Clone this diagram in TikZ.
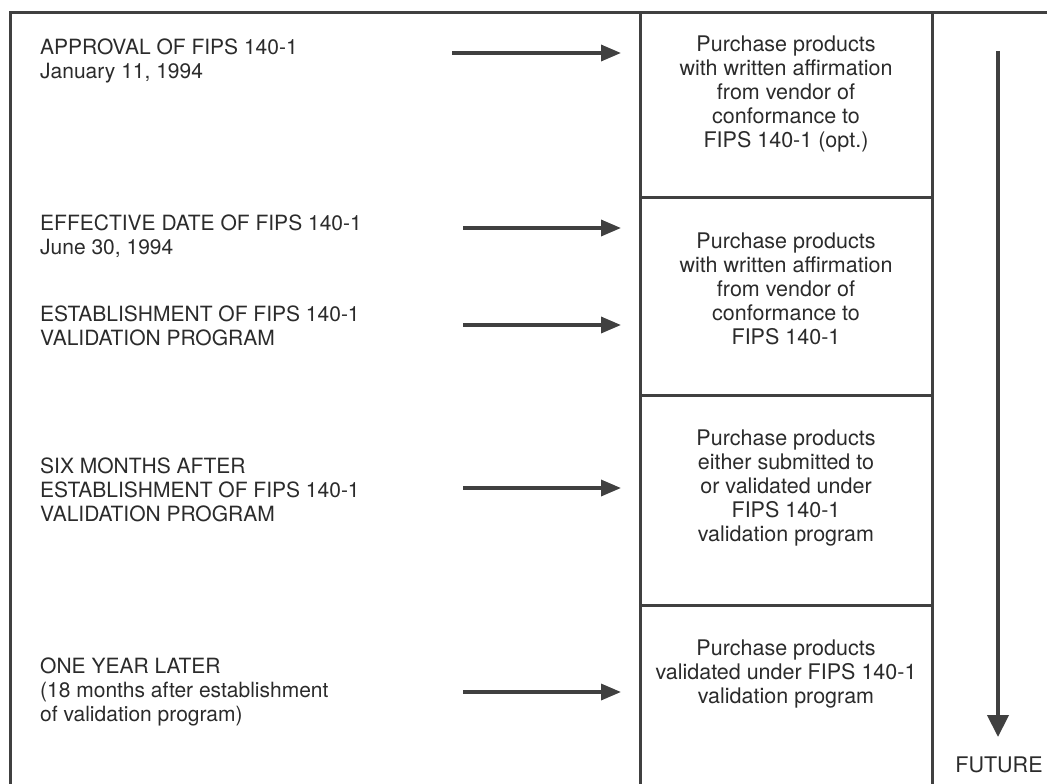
\documentclass[tikz,border=0pt]{standalone}
\usepackage{fontspec}
\setmainfont{TeX Gyre Heros}
\usetikzlibrary{arrows.meta}

\definecolor{ink}{HTML}{404040}
\definecolor{print}{HTML}{2B2B2B}

\tikzset{
  rule/.style={draw=ink, line width=3pt},
  event/.style={anchor=west, align=left, inner sep=0pt, text=print,
    font=\fontsize{21}{24}\selectfont},
  buy/.style={anchor=center, align=center, inner sep=0pt, text=print,
    font=\fontsize{21.5}{24}\selectfont},
  goes/.style={draw=ink, line width=3.4pt, -{Triangle[length=20pt,width=16pt]}},
  later/.style={draw=ink, line width=4.2pt, -{Triangle[length=22pt,width=21pt]}},
}

\begin{document}
\begin{tikzpicture}[x=1pt,y=-1pt]
\useasboundingbox (0,0) rectangle (1047,784);

\def\xl{10}; % left edge
\def\xm{640}; % purchase column
\def\xr{932}; % future column
\def\yt{13}; % top rule
\def\yb{784};
\def\xt{40}; % left text
\def\xc{786}; % purchase text centre

% frame
\draw[rule] (1047,\yt) -- (\xl,\yt) -- (\xl,\yb);
\draw[rule] (\xm,\yt) -- (\xm,\yb);
\draw[rule] (\xr,\yt) -- (\xr,\yb);
\draw[rule] (\xm,197) -- (\xr,197);
\draw[rule] (\xm,395) -- (\xr,395);
\draw[rule] (\xm,605) -- (\xr,605);

% events
\node[event] (approval) at (\xt,61) {APPROVAL OF FIPS 140-1\\January 11, 1994};
\node[event] (effective) at (\xt,236) {EFFECTIVE DATE OF FIPS 140-1\\June 30, 1994};
\node[event] (program) at (\xt,326) {ESTABLISHMENT OF FIPS 140-1\\VALIDATION PROGRAM};
\node[event] (sixmonths) at (\xt,490) {SIX MONTHS AFTER\\ESTABLISHMENT OF FIPS 140-1\\VALIDATION PROGRAM};
\node[event] (oneyear) at (\xt,692) {ONE YEAR LATER\\(18 months after establishment\\of validation program)};

% what to purchase
\node[buy] (optional) at (\xc,94) {Purchase products\\with written affirmation\\from vendor of\\conformance to\\FIPS 140-1 (opt.)};
\node[buy] (affirmed) at (\xc,289) {Purchase products\\with written affirmation\\from vendor of\\conformance to\\FIPS 140-1};
\node[buy] (submitted) at (\xc,488) {Purchase products\\either submitted to\\or validated under\\FIPS 140-1\\validation program};
\node[buy] (validated) at (\xc,674) {Purchase products\\validated under FIPS 140-1\\validation program};

% arrows
\coordinate (s1) at (452,53);
\coordinate (e1) at (621,53);
\coordinate (s2) at (463,228);
\coordinate (e2) at (621,228);
\coordinate (s3) at (463,325);
\coordinate (e3) at (621,325);
\coordinate (s4) at (463,488);
\coordinate (e4) at (621,488);
\coordinate (s5) at (463,692);
\coordinate (e5) at (621,692);
\foreach \i in {1,...,5}
  \draw[goes] (s\i) -- (e\i);

% time
\node[buy] (future) at (999,765) {FUTURE};
\coordinate (now) at (998,51);
\coordinate (then) at (998,737);
\draw[later] (now) -- (then);

\end{tikzpicture}
\end{document}
